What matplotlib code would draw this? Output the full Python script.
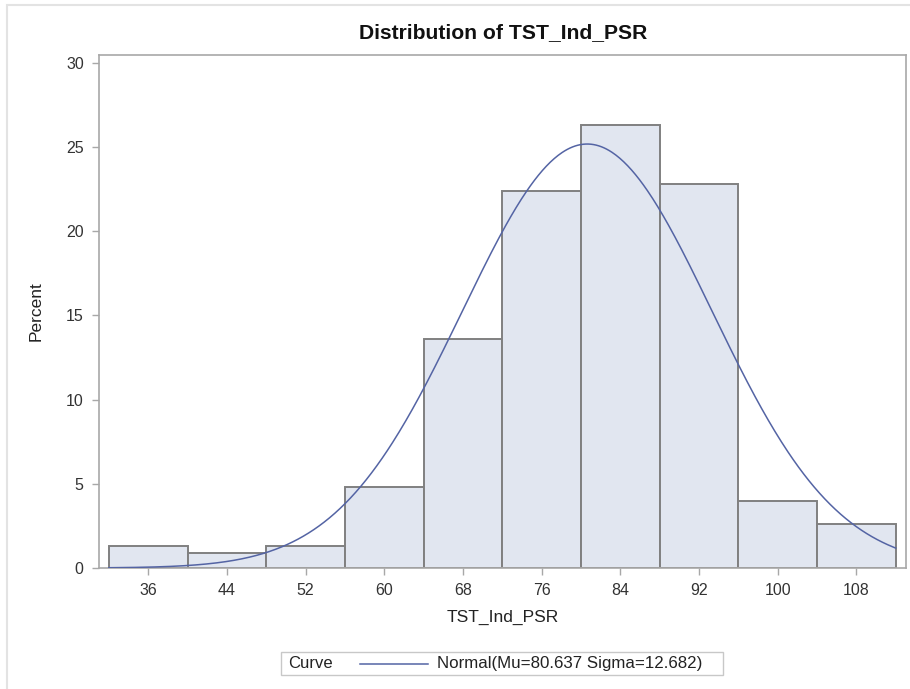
import numpy as np
import matplotlib
matplotlib.use("Agg")
import matplotlib.pyplot as plt
from matplotlib.patches import Rectangle
from matplotlib.lines import Line2D

plt.rcParams['font.family'] = ['Liberation Sans', 'DejaVu Sans']

# Histogram of TST_Ind_PSR: bin midpoints and observation counts
bin_mids = [36, 44, 52, 60, 68, 76, 84, 92, 100, 108]
counts = [3, 2, 3, 11, 31, 51, 60, 52, 9, 6]
bin_width = 8
mu = 80.637
sigma = 12.682

x_ticks = [36, 44, 52, 60, 68, 76, 84, 92, 100, 108]
y_ticks = [0, 5, 10, 15, 20, 25, 30]

n_total = sum(counts)
percents = [100.0 * c / n_total for c in counts]

W, H = 910, 689
fig = plt.figure(figsize=(W / 100, H / 100), dpi=100)
fig.patch.set_facecolor("white")

# outer frame of the graph area
fig.patches.append(Rectangle((7 / W, -0.1), 1.2, 1 - 5 / H + 0.1,
                             transform=fig.transFigure, fill=False,
                             edgecolor="#E3E3E3", linewidth=1.5))

ax = fig.add_axes([99 / W, 1 - 568 / H, (906 - 99) / W, (568 - 55) / H])
ax.set_xlim(31.0, 113.05)
ax.set_ylim(0, 30.45)

ax.bar(bin_mids, percents, width=bin_width, align="center",
       color="#E1E6F0", edgecolor="#808080", linewidth=1.4, zorder=2)

# fitted normal curve, scaled to percent per bin, over the histogram range
lo = bin_mids[0] - bin_width / 2
hi = bin_mids[-1] + bin_width / 2
xs = np.linspace(lo, hi, 600)
curve = 100.0 * bin_width * np.exp(-0.5 * ((xs - mu) / sigma) ** 2) / (sigma * np.sqrt(2 * np.pi))
ax.plot(xs, curve, color="#5464A4", linewidth=1.1, zorder=3)

ax.set_xticks(x_ticks)
ax.set_yticks(y_ticks)
ax.tick_params(axis="both", direction="out", length=5, width=1, color="#A8A8A8",
               labelsize=11.5, labelcolor="#333333", pad=6)
for s in ax.spines.values():
    s.set_color("#A8A8A8")
    s.set_linewidth(1.2)

ax.set_xlabel("TST_Ind_PSR", fontsize=12.5, color="#222222", labelpad=8)
ax.set_ylabel("Percent", fontsize=12.5, color="#222222", labelpad=16)

fig.text(503 / W, 1 - 33 / H, "Distribution of TST_Ind_PSR", ha="center", va="center",
         fontsize=15.2, fontweight="bold", color="#111111")

# legend strip
fig.patches.append(Rectangle((281 / W, 1 - 675 / H), (723 - 281) / W, 23 / H,
                             transform=fig.transFigure, fill=False,
                             edgecolor="#C8C8C8", linewidth=1.0))
fig.text(288 / W, 1 - 663.5 / H, "Curve", ha="left", va="center",
         fontsize=12, color="#222222")
fig.lines.append(Line2D([360 / W, 428 / W], [1 - 663.5 / H, 1 - 663.5 / H],
                        transform=fig.transFigure, color="#5464A4", linewidth=1.1))
fig.text(437 / W, 1 - 663.5 / H, f"Normal(Mu={mu:.3f} Sigma={sigma:.3f})",
         ha="left", va="center", fontsize=12.2, color="#222222")

fig.savefig("out.png", dpi=100)
